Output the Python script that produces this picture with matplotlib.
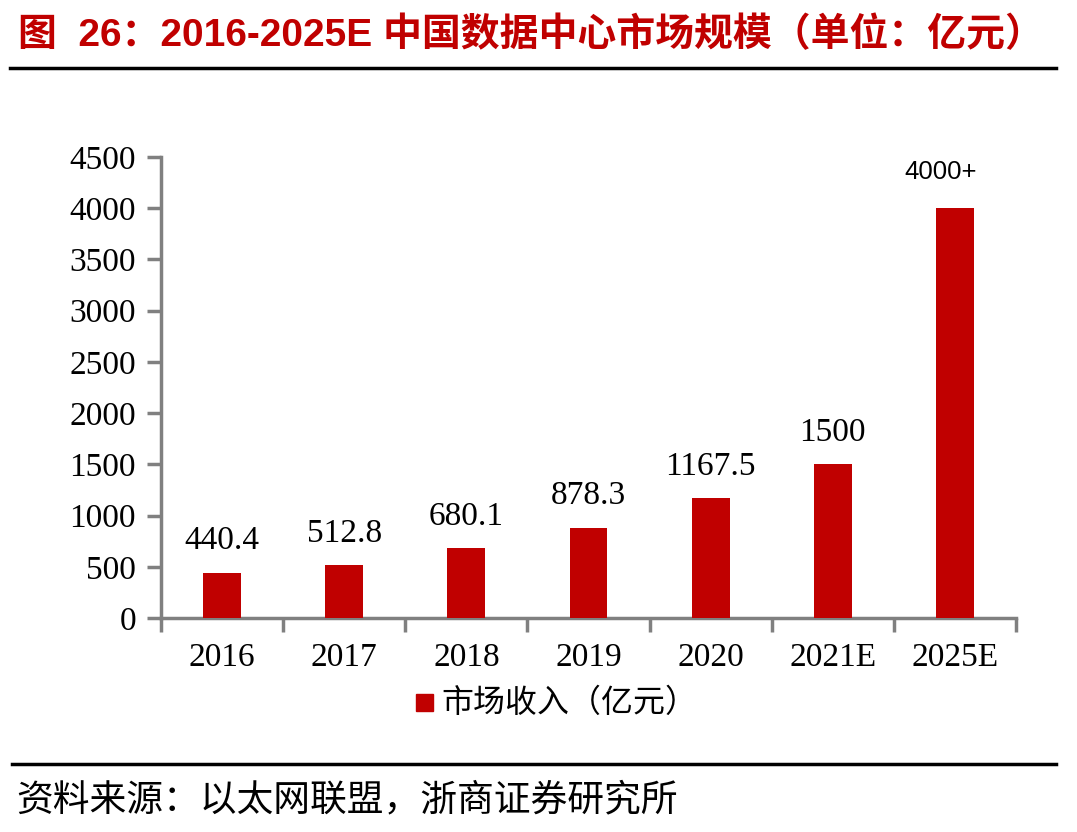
import matplotlib
matplotlib.use("Agg")
import matplotlib.pyplot as plt
from matplotlib.lines import Line2D
import numpy as np

categories = ["2016", "2017", "2018", "2019", "2020", "2021E", "2025E"]
values = [440.4, 512.8, 680.1, 878.3, 1167.5, 1500, 4000]
labels = ["440.4", "512.8", "680.1", "878.3", "1167.5", "1500", "4000+"]
yticks = [0, 500, 1000, 1500, 2000, 2500, 3000, 3500, 4000, 4500]
title = "图  26：2016-2025E 中国数据中心市场规模（单位：亿元）"
legend_label = "市场收入（亿元）"
source = "资料来源：以太网联盟，浙商证券研究所"

RED = "#C00000"
GRAY = "#808080"
SERIF = ["Liberation Serif", "Noto Sans CJK SC"]
CJK = ["Noto Sans CJK SC", "DejaVu Sans"]

fig = plt.figure(figsize=(10.77, 8.32), dpi=100)
W, H = 1077, 832
ax = fig.add_axes([161 / W, 1 - 618 / H, (1016 - 161) / W, (618 - 157) / H])

x = np.arange(len(categories))
ax.bar(x, values, width=0.31, color=RED, zorder=3)
ax.set_xlim(-0.5, len(categories) - 0.5)
ax.set_ylim(0, 4500)
ax.set_yticks(yticks)
ax.set_yticklabels([str(v) for v in yticks], fontfamily=SERIF, fontsize=24)
ax.set_xticks(x)
ax.set_xticklabels(categories, fontfamily=SERIF, fontsize=24)
ax.tick_params(axis="x", length=0, pad=18)
ax.set_xticks(np.arange(-0.5, len(categories)), minor=True)
ax.tick_params(axis="x", which="minor", length=10, width=2.5, color=GRAY, direction="out")
ax.tick_params(axis="y", length=10, width=2.5, color=GRAY, direction="out", pad=8)
for s in ["top", "right"]:
    ax.spines[s].set_visible(False)
for s in ["left", "bottom"]:
    ax.spines[s].set_color(GRAY)
    ax.spines[s].set_linewidth(2.5)

for i, (v, lab) in enumerate(zip(values, labels)):
    if lab.endswith("+"):
        ax.annotate(lab, (i, v), xytext=(-10, 26), textcoords="offset points",
                    ha="center", va="center", fontsize=18.5, fontfamily=["Liberation Sans"])
    else:
        ax.annotate(lab, (i, v), xytext=(0, 12), textcoords="offset points",
                    ha="center", va="bottom", fontsize=24, fontfamily=SERIF)

# legend
fig.patches.append(plt.Rectangle((416 / W, 1 - 711 / H), 17 / W, 17 / H,
                                 transform=fig.transFigure, color=RED))
fig.text(441 / W, 1 - 703 / H, legend_label, fontfamily=CJK, fontsize=23,
         va="center", ha="left")

# title and rules
fig.text(18 / W, 1 - 35 / H, title, fontfamily=["Liberation Sans", "Noto Sans CJK SC"],
         fontweight="bold", fontsize=28, color=RED, va="center", ha="left")
fig.add_artist(Line2D([10 / W, 1056 / W], [1 - 68 / H, 1 - 68 / H], color="black",
                      lw=2.5, transform=fig.transFigure))
fig.add_artist(Line2D([12 / W, 1056 / W], [1 - 764 / H, 1 - 764 / H], color="black",
                      lw=2.5, transform=fig.transFigure))
fig.text(16 / W, 1 - 800 / H, source, fontfamily=CJK, fontsize=26.5,
         va="center", ha="left")

fig.savefig("out.png", dpi=100)
